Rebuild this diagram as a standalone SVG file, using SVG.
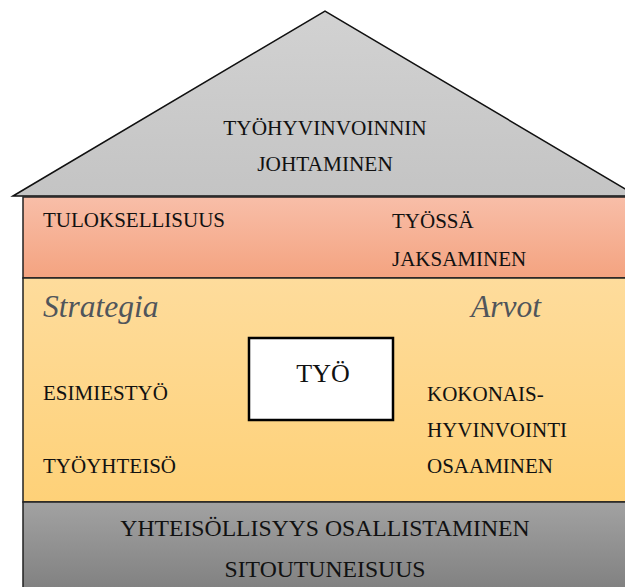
<svg xmlns="http://www.w3.org/2000/svg" width="625" height="587" viewBox="0 0 625 587">
  <defs>
    <linearGradient id="roofFill" x1="0" y1="0" x2="0" y2="1">
      <stop offset="0" stop-color="#d2d2d2"/>
      <stop offset="1" stop-color="#c4c4c4"/>
    </linearGradient>
    <linearGradient id="redFill" x1="0" y1="0" x2="0" y2="1">
      <stop offset="0" stop-color="#f8bea8"/>
      <stop offset="1" stop-color="#f4a380"/>
    </linearGradient>
    <linearGradient id="yellowFill" x1="0" y1="0" x2="0" y2="1">
      <stop offset="0" stop-color="#fedc9c"/>
      <stop offset="1" stop-color="#fed178"/>
    </linearGradient>
    <linearGradient id="grayFill" x1="0" y1="0" x2="0" y2="1">
      <stop offset="0" stop-color="#a2a2a2"/>
      <stop offset="1" stop-color="#7c7c7c"/>
    </linearGradient>
  </defs>
  <style>
    text { font-family: "Liberation Serif", "Times New Roman", serif; fill: #111; }
    .t { font-size: 21px; }
    .roof { font-size: 21.3px; }
    .base { font-size: 23.7px; }
    .mid { text-anchor: middle; }
    .it { font-size: 31.5px; font-style: italic; fill: #50555b; }
    .band { stroke: #222; stroke-width: 1.5; }
  </style>

  <!-- roof -->
  <g id="roof">
    <polygon points="13,196 325,11 637,196" fill="url(#roofFill)" stroke="#111" stroke-width="1.5" stroke-linejoin="miter"/>
    <text class="roof mid" x="325" y="135">TYÖHYVINVOINNIN</text>
    <text class="roof mid" x="325" y="171">JOHTAMINEN</text>
  </g>

  <!-- upper floor -->
  <g id="upper">
    <rect class="band" x="23" y="197" width="620" height="81" fill="url(#redFill)"/>
    <text class="t" x="43" y="227">TULOKSELLISUUS</text>
    <text class="t" x="392" y="228">TYÖSSÄ</text>
    <text class="t" x="392" y="266">JAKSAMINEN</text>
  </g>

  <!-- main floor -->
  <g id="middle">
    <rect class="band" x="23" y="278" width="620" height="224" fill="url(#yellowFill)"/>
    <text class="it" x="43" y="317">Strategia</text>
    <text class="it" x="471" y="317">Arvot</text>
    <text class="t" x="43" y="400">ESIMIESTYÖ</text>
    <text class="t" x="43" y="473">TYÖYHTEISÖ</text>
    <text class="t" x="427" y="401">KOKONAIS-</text>
    <text class="t" x="427" y="437">HYVINVOINTI</text>
    <text class="t" x="427" y="473">OSAAMINEN</text>
  </g>

  <!-- centre box -->
  <g id="tyo">
    <rect x="249" y="338" width="144" height="82" fill="#fff" stroke="#000" stroke-width="2.5"/>
    <text class="mid" x="323" y="382" font-size="26">TYÖ</text>
  </g>

  <!-- foundation -->
  <g id="foundation">
    <rect class="band" x="23" y="502" width="620" height="100" fill="url(#grayFill)"/>
    <text class="base mid" x="325" y="536">YHTEISÖLLISYYS OSALLISTAMINEN</text>
    <text class="base mid" x="325" y="577">SITOUTUNEISUUS</text>
  </g>
</svg>
